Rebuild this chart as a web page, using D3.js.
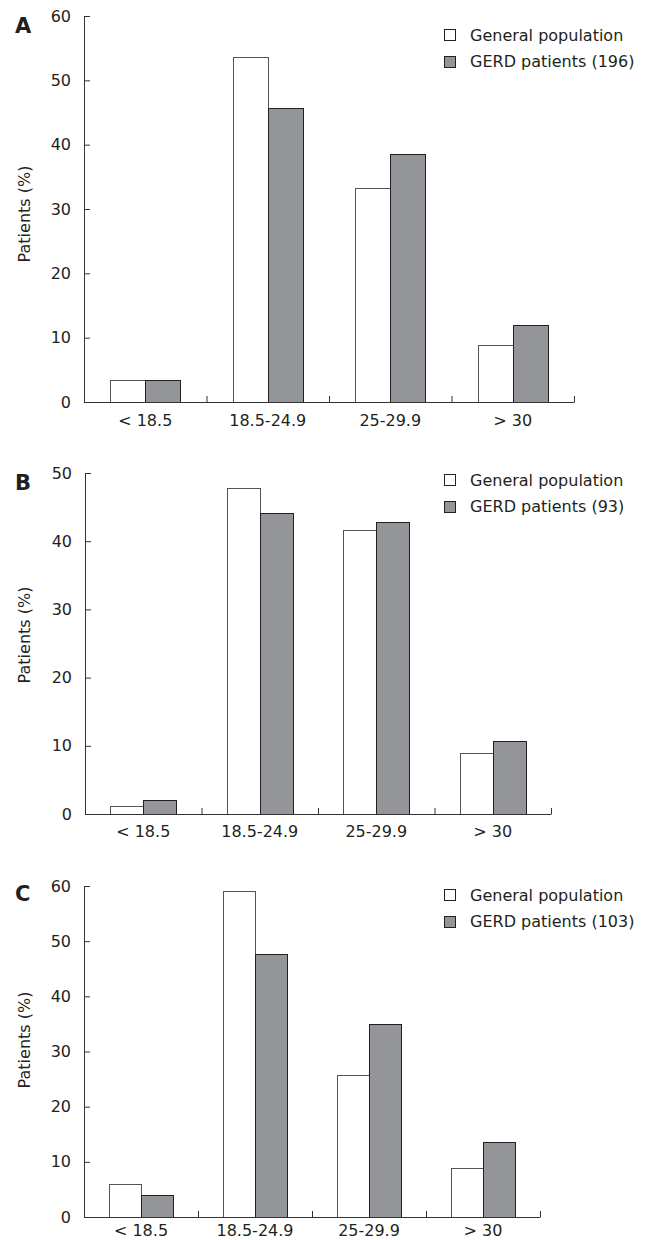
<!DOCTYPE html>
<html>
<head>
<meta charset="utf-8">
<script src="https://cdn.jsdelivr.net/npm/d3@7"></script>
<style>
  body { margin: 0; background: #fff; }
  svg { display: block; font-family: "DejaVu Sans", Verdana, sans-serif; }
  .axis path, .axis line { stroke: #333; }
  .axis text { fill: #231f20; font-size: 16px; font-family: "DejaVu Sans", sans-serif; }
</style>
</head>
<body>
<svg id="chart" width="649" height="1240"></svg>
<script>
// data (percent of patients per BMI class)
const categories = ["< 18.5", "18.5-24.9", "25-29.9", "> 30"];
const seriesNames = ["General population", "GERD patients"];
const panelLetters = ["A", "B", "C"];
const gerdCounts = [196, 93, 103];

const generalA = [3.4, 53.6, 33.3, 8.9];
const gerdA = [3.4, 45.7, 38.6, 12.0];
const generalB = [1.1, 47.8, 41.7, 8.9];
const gerdB = [2.1, 44.1, 42.8, 10.7];
const generalC = [5.9, 59.1, 25.7, 8.9];
const gerdC = [3.9, 47.6, 35.0, 13.6];

const yTicksA = [0, 10, 20, 30, 40, 50, 60];
const yTicksB = [0, 10, 20, 30, 40, 50];
const yTicksC = [0, 10, 20, 30, 40, 50, 60];

// page layout of each panel
const layout = [
    { left: 84, right: 574, top: 16, bottom: 402, letterY: 33, labelY: 214, legendY: 35, xPad: 13 },
    { left: 85, right: 551, top: 473, bottom: 814, letterY: 490, labelY: 635, legendY: 480, xPad: 12 },
    { left: 84, right: 540, top: 886, bottom: 1217, letterY: 901, labelY: 1040, legendY: 895, xPad: 8 }
];

const panels = [
    { general: generalA, gerd: gerdA, ticks: yTicksA },
    { general: generalB, gerd: gerdB, ticks: yTicksB },
    { general: generalC, gerd: gerdC, ticks: yTicksC }
];

const fills = ["#ffffff", "#939598"];
const strokes = ["#555", "#231f20"];

const svg = d3.select("#chart");

panels.forEach(function (p, i) {
    const L = layout[i];
    const w = L.right - L.left, h = L.bottom - L.top;
    const g = svg.append("g").attr("transform", "translate(" + L.left + "," + L.top + ")");

    const x0 = d3.scaleBand().domain(categories).range([0, w])
        .paddingInner(0.43).paddingOuter(0.215);
    const x1 = d3.scaleBand().domain(seriesNames).range([0, x0.bandwidth()]);
    const xEdge = d3.scaleLinear().domain([0, categories.length]).range([0, w]);
    const y = d3.scaleLinear().domain([0, d3.max(p.ticks)]).range([h, 0]);

    const rows = categories.map(function (c, k) {
        return { cat: c, values: [p.general[k], p.gerd[k]] };
    });

    g.selectAll(".grp")
        .data(rows)
        .enter().append("g")
        .attr("class", "grp")
        .attr("transform", function (d) { return "translate(" + x0(d.cat) + ",0)"; })
        .selectAll("rect")
        .data(function (d) { return d.values.map(function (v, s) { return { s: s, v: v }; }); })
        .enter().append("rect")
        .attr("x", function (d) { return x1(seriesNames[d.s]) + 0.5; })
        .attr("y", function (d) { return y(d.v) + 0.5; })
        .attr("width", x1.bandwidth())
        .attr("height", function (d) { return h - y(d.v); })
        .attr("fill", function (d) { return fills[d.s]; })
        .attr("stroke", function (d) { return strokes[d.s]; })
        .attr("stroke-width", 1)
        .attr("shape-rendering", "crispEdges");

    // y axis, ticks pointing inward
    g.append("g")
        .attr("class", "axis")
        .call(d3.axisLeft(y).tickValues(p.ticks).tickSize(-6).tickSizeOuter(0).tickPadding(13))
        .call(function (a) { a.select(".domain").attr("d", "M0.5," + (h + 0.5) + "V0.5"); });

    // x axis line with boundary ticks
    g.append("g")
        .attr("class", "axis")
        .attr("transform", "translate(0," + h + ")")
        .call(d3.axisBottom(xEdge).tickValues([1, 2, 3, 4]).tickSize(-6).tickSizeOuter(0).tickFormat(""));

    // category labels
    g.append("g")
        .attr("class", "axis")
        .attr("transform", "translate(0," + h + ")")
        .call(d3.axisBottom(x0).tickSize(0).tickPadding(L.xPad))
        .call(function (a) { a.select(".domain").remove(); });

    // panel letter
    svg.append("text")
        .attr("x", 15)
        .attr("y", L.letterY)
        .attr("font-size", 21)
        .attr("font-weight", "bold")
        .attr("fill", "#231f20")
        .text(panelLetters[i]);

    // y label
    svg.append("text")
        .attr("transform", "translate(30," + L.labelY + ") rotate(-90)")
        .attr("text-anchor", "middle")
        .attr("font-size", 16)
        .attr("fill", "#231f20")
        .text("Patients (%)");

    // legend
    const labels = [seriesNames[0], seriesNames[1] + " (" + gerdCounts[i] + ")"];
    const lg = svg.append("g").attr("transform", "translate(444," + L.legendY + ")");
    labels.forEach(function (t, s) {
        lg.append("rect")
            .attr("x", 0.5)
            .attr("y", s * 26.5 - 5.5)
            .attr("width", 11)
            .attr("height", 11)
            .attr("fill", fills[s])
            .attr("stroke", "#231f20")
            .attr("shape-rendering", "crispEdges");
        lg.append("text")
            .attr("x", 26)
            .attr("y", s * 26.5)
            .attr("dy", "0.36em")
            .attr("font-size", 16)
            .attr("fill", "#231f20")
            .text(t);
    });
});
</script>
</body>
</html>
